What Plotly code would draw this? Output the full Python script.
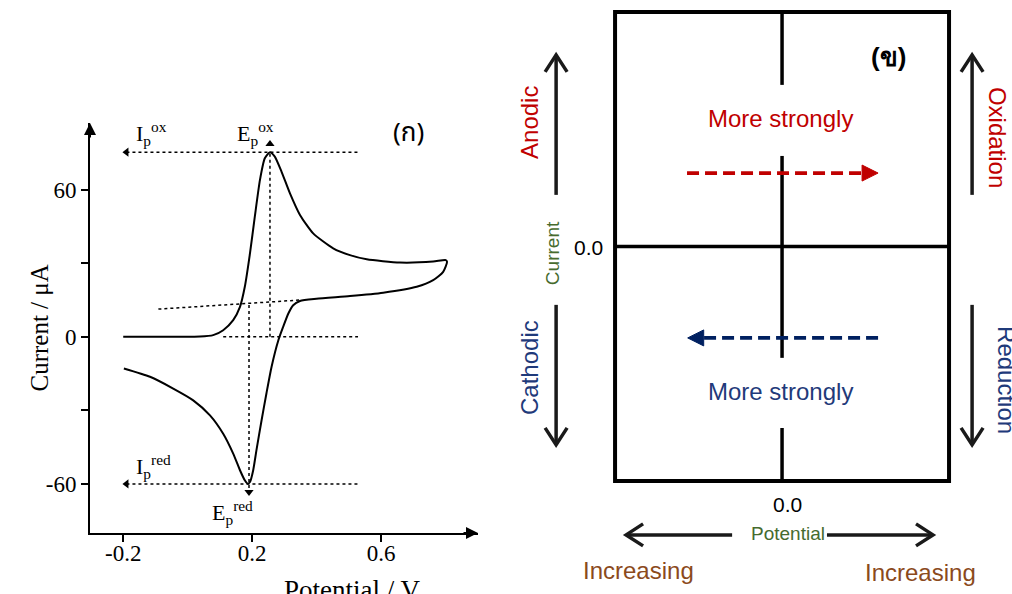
import plotly.graph_objects as go

W, H = 1012, 594

# ---------------- Left panel (ก): cyclic voltammogram ----------------
fwd_V = [-0.200, -0.066, 0.038, 0.079, 0.110, 0.141, 0.162, 0.177, 0.193, 0.208, 0.224,
         0.239, 0.255, 0.270, 0.291, 0.317, 0.348, 0.389, 0.451, 0.503, 0.555, 0.658,
         0.761, 0.800]
fwd_I = [0.0, 0.0, 0.1, 0.7, 2.7, 6.8, 12.2, 20.4, 34.0, 49.0, 64.0,
         72.8, 75.3, 73.5, 67.3, 58.5, 49.7, 42.2, 36.1, 33.3, 31.6, 30.3,
         30.7, 31.3]
rev_V = [0.804, 0.792, 0.761, 0.710, 0.606, 0.503, 0.399, 0.348, 0.327, 0.312, 0.296,
         0.281, 0.260, 0.244, 0.229, 0.213, 0.203, 0.193, 0.186, 0.177, 0.162, 0.141,
         0.110, 0.069, 0.017, -0.045, -0.117, -0.198]
rev_I = [30.6, 26.5, 23.1, 20.4, 18.0, 16.6, 15.5, 14.6, 12.9, 9.5, 4.1,
         -1.4, -12.2, -23.1, -34.0, -46.3, -54.4, -59.2, -59.9, -58.5, -54.4, -47.6,
         -39.5, -32.0, -25.9, -21.1, -16.3, -12.9]

Ep_ox, Ip_ox = 0.255, 75.3
Ep_red, Ip_red = 0.19, -60.0
ref_V = [-0.19, 0.528]          # extent of horizontal dotted guide lines
zero_V = [0.11, 0.528]          # dotted zero-current guide
base_V = [-0.091, 0.348]        # extrapolated baseline
base_I = [11.3, 15.0]
ox_arrow_I = 78.6
red_arrow_I = -63.3
red_vline_top = 13.0

x_ticks = [-0.2, 0.2, 0.6]
x_ticklabels = ["-0.2", "0.2", "0.6"]
y_ticks = [-60, -30, 0, 30, 60]
y_ticklabels = ["-60", "", "0", "", "60"]
x_range = [-0.303, 0.90]
y_range = [-80, 87.2]

# ---------------- Right panel (ข): schematic ----------------
box_lim = 1.0
vline_segments = [(1.0, 0.689), (0.386, -0.475), (-0.774, -1.0)]
ox_dash = {"y": 0.313, "x0": -0.569, "x1": 0.575}
red_dash = {"y": -0.390, "x0": 0.575, "x1": -0.565}
side_left_x, side_right_x = -1.353, 1.138
up_arrow = (0.22, 0.817)
down_arrow = (-0.249, -0.846)
bottom_y = -1.230
left_h_arrow = (-0.299, -0.934)
right_h_arrow = (0.269, 0.904)
r_xrange = [-1.689, 1.377]
r_yrange = [-1.482, 1.051]

RED = "#C00000"
NAVY = "#002060"
BLUE_TXT = "#1F3A7A"
GREEN = "#466B2E"
BROWN = "#8B4A1C"
SERIF = "Liberation Serif"
SANS = "Liberation Sans"

fig = go.Figure()

# CV curve
fig.add_trace(go.Scatter(x=fwd_V + rev_V, y=fwd_I + rev_I, mode="lines",
                         line=dict(color="black", width=2, shape="spline", smoothing=0.6),
                         hoverinfo="skip"))
dot = dict(color="black", width=1.5, dash="dot")
for yv in (Ip_ox, Ip_red):
    fig.add_trace(go.Scatter(x=ref_V, y=[yv, yv], mode="lines", line=dot))
fig.add_trace(go.Scatter(x=zero_V, y=[0, 0], mode="lines", line=dot))
fig.add_trace(go.Scatter(x=base_V, y=base_I, mode="lines", line=dot))
fig.add_trace(go.Scatter(x=[Ep_ox, Ep_ox], y=[0, Ip_ox], mode="lines", line=dot))
fig.add_trace(go.Scatter(x=[Ep_red, Ep_red], y=[red_vline_top, red_arrow_I], mode="lines", line=dot))
# arrow tips
fig.add_trace(go.Scatter(x=[ref_V[0], ref_V[0]], y=[Ip_ox, Ip_red], mode="markers",
                         marker=dict(symbol="triangle-left", size=8, color="black")))
fig.add_trace(go.Scatter(x=[Ep_ox], y=[ox_arrow_I], mode="markers",
                         marker=dict(symbol="triangle-up", size=8, color="black"), cliponaxis=False))
fig.add_trace(go.Scatter(x=[Ep_red], y=[red_arrow_I], mode="markers",
                         marker=dict(symbol="triangle-down", size=8, color="black"), cliponaxis=False))

# right panel invisible trace to establish axes
fig.add_trace(go.Scatter(x=[0], y=[0], xaxis="x2", yaxis="y2", mode="markers",
                         marker=dict(size=1, color="rgba(0,0,0,0)"), hoverinfo="skip"))

shapes = []
# box
shapes.append(dict(type="rect", xref="x2", yref="y2", x0=-box_lim, x1=box_lim, y0=-box_lim, y1=box_lim,
                   line=dict(color="black", width=4)))
shapes.append(dict(type="line", xref="x2", yref="y2", x0=-box_lim, x1=box_lim, y0=0, y1=0,
                   line=dict(color="black", width=3.5)))
for a, b in vline_segments:
    shapes.append(dict(type="line", xref="x2", yref="y2", x0=0, x1=0, y0=a, y1=b,
                       line=dict(color="black", width=3.5)))

pxx = 512 / (r_xrange[1] - r_xrange[0])   # pixels per unit x
pxy = 594 / (r_yrange[1] - r_yrange[0])   # pixels per unit y

def dashed_arrow(d, color):
    direction = 1 if d["x1"] > d["x0"] else -1
    hl = 16 / pxx
    hw = 8 / pxy
    base = d["x1"] - direction * hl
    shapes.append(dict(type="line", xref="x2", yref="y2", x0=d["x0"], x1=base, y0=d["y"], y1=d["y"],
                       line=dict(color=color, width=3.8, dash="12px,6px")))
    shapes.append(dict(type="path", xref="x2", yref="y2",
                       path=f"M {base},{d['y']+hw} L {d['x1']},{d['y']} L {base},{d['y']-hw} Z",
                       fillcolor=color, line=dict(color=color, width=1)))

dashed_arrow(ox_dash, RED)
dashed_arrow(red_dash, NAVY)

def chevron_arrow(x0, y0, x1, y1):
    shapes.append(dict(type="line", xref="x2", yref="y2", x0=x0, y0=y0, x1=x1, y1=y1,
                       line=dict(color="#1a1a1a", width=3.5)))
    if x0 == x1:
        s = 1 if y1 > y0 else -1
        back = 17 / pxy
        side = 11 / pxx
        p = f"M {x1-side},{y1-s*back} L {x1},{y1} L {x1+side},{y1-s*back}"
    else:
        s = 1 if x1 > x0 else -1
        back = 17 / pxx
        side = 11 / pxy
        p = f"M {x1-s*back},{y1+side} L {x1},{y1} L {x1-s*back},{y1-side}"
    shapes.append(dict(type="path", xref="x2", yref="y2", path=p,
                       line=dict(color="#1a1a1a", width=3.5)))

for sx in (side_left_x, side_right_x):
    chevron_arrow(sx, up_arrow[0], sx, up_arrow[1])
    chevron_arrow(sx, down_arrow[0], sx, down_arrow[1])
chevron_arrow(left_h_arrow[0], bottom_y, left_h_arrow[1], bottom_y)
chevron_arrow(right_h_arrow[0], bottom_y, right_h_arrow[1], bottom_y)

annotations = []
def ann(x, y, text, size, color="black", family=SANS, angle=0, xref="x2", yref="y2", **kw):
    annotations.append(dict(x=x, y=y, xref=xref, yref=yref, text=text, showarrow=False,
                            textangle=angle, font=dict(family=family, size=size, color=color), **kw))

# right panel texts
ann(-0.012, 0.544, "More strongly", 24, RED)
ann(-0.012, -0.620, "More strongly", 24, BLUE_TXT)
ann(0.635, 0.808, "<b>(ข)</b>", 26)
ann(-1.509, 0.527, "Anodic", 24, RED, angle=-90)
ann(-1.509, -0.518, "Cathodic", 24, BLUE_TXT, angle=-90)
ann(-1.377, -0.028, "Current", 19, GREEN, angle=-90)
ann(-1.162, -0.006, "0.0", 21)
ann(1.287, 0.463, "Oxidation", 24, RED, angle=90)
ann(1.34, -0.569, "Reduction", 24, BLUE_TXT, angle=90)
ann(0.03, -1.102, "0.0", 21)
ann(0.036, -1.222, "Potential", 19, GREEN)
ann(-0.862, -1.380, "Increasing", 24, BROWN)
ann(0.832, -1.392, "Increasing", 24, BROWN)

# left panel texts
ann(-0.168, 83.0, "I<sub>p</sub><sup>ox</sup>", 22, family=SERIF, xref="x", yref="y", xanchor="left")
ann(0.148, 83.0, "E<sub>p</sub><sup>ox</sup>", 22, family=SERIF, xref="x", yref="y", xanchor="left")
ann(0.683, 83.0, "(ก)", 26, family="Noto Sans Thai, Noto Sans, DejaVu Sans, sans-serif",
    xref="x", yref="y")
ann(-0.168, -53.0, "I<sub>p</sub><sup>red</sup>", 22, family=SERIF, xref="x", yref="y", xanchor="left")
ann(0.068, -71.5, "E<sub>p</sub><sup>red</sup>", 22, family=SERIF, xref="x", yref="y", xanchor="left")
ann(23 / W, 1 - 328 / H, "Current / μA", 25, family=SERIF, angle=-90, xref="paper", yref="paper")
ann(282 / W, 1 - 573 / H, "Potential / V", 27, family=SERIF, xref="paper", yref="paper", yanchor="top")

# axis arrowheads for left panel
x_dom = [90 / W, 478 / W]
y_dom = [1 - 533 / H, 1 - 123 / H]
annotations.append(dict(x=x_dom[0], y=y_dom[1], xref="paper", yref="paper", ax=0, ay=16,
                        showarrow=True, arrowhead=2, arrowsize=1.2, arrowwidth=2, arrowcolor="black", text=""))
annotations.append(dict(x=x_dom[1], y=y_dom[0], xref="paper", yref="paper", ax=-16, ay=0,
                        showarrow=True, arrowhead=2, arrowsize=1.2, arrowwidth=2, arrowcolor="black", text=""))

fig.update_layout(
    width=W, height=H, margin=dict(l=0, r=0, t=0, b=0),
    paper_bgcolor="white", plot_bgcolor="rgba(0,0,0,0)", showlegend=False,
    xaxis=dict(domain=x_dom, range=x_range, anchor="y", showline=True, linecolor="black", linewidth=2,
               ticks="outside", ticklen=7, tickwidth=1.5, tickcolor="black", ticklabelstandoff=-9,
               tickvals=x_ticks, ticktext=x_ticklabels, showgrid=False, zeroline=False,
               tickfont=dict(family=SERIF, size=23, color="black")),
    yaxis=dict(domain=y_dom, range=y_range, anchor="x", showline=True, linecolor="black", linewidth=2,
               ticks="outside", ticklen=7, tickwidth=1.5, tickcolor="black",
               tickvals=y_ticks, ticktext=y_ticklabels, showgrid=False, zeroline=False,
               tickfont=dict(family=SERIF, size=23, color="black")),
    xaxis2=dict(domain=[500 / W, 1], range=r_xrange, anchor="y2", visible=False),
    yaxis2=dict(domain=[0, 1], range=r_yrange, anchor="x2", visible=False),
    shapes=shapes, annotations=annotations,
)

fig.write_html("out.html")
